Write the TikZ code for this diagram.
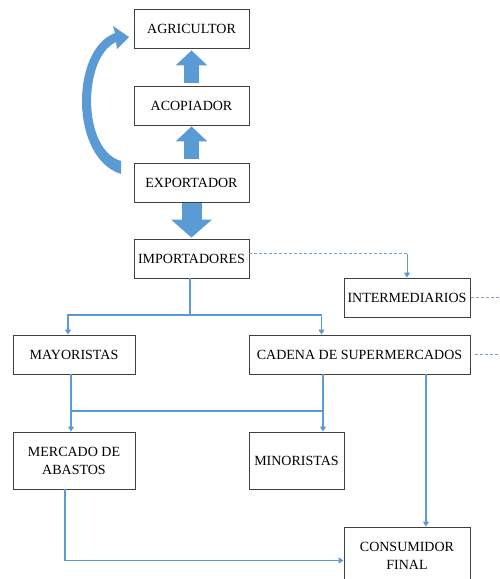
\documentclass[tikz,border=0pt]{standalone}
\usepackage{fontspec}
\setmainfont{Liberation Serif}
\usetikzlibrary{arrows.meta}

\definecolor{mBlue}{HTML}{5B9BD5}
\definecolor{mGray}{HTML}{404040}
\definecolor{mDash}{HTML}{7F9FD0}

\tikzset{
  box/.style={draw=mGray, line width=0.9pt, inner sep=0pt, align=center, font=\fontsize{14}{18}\selectfont},
  link/.style={mBlue, line width=1.4pt},
  linkarrow/.style={link, -{Triangle[length=5pt,width=6pt]}},
  dashlink/.style={mDash, line width=0.8pt, dash pattern=on 3pt off 2pt},
  bigarrow/.style={mBlue, line width=15pt, -{Triangle[length=15pt,width=31pt]}}
}

\begin{document}
\begin{tikzpicture}[x=1pt,y=-1pt]
\useasboundingbox (0,0) rectangle (499,579);

\node[box, minimum width=115pt, minimum height=39pt] (agr) at (191.5,28.5) {AGRICULTOR};
\node[box, minimum width=115pt, minimum height=39pt] (aco) at (191.5,105.5) {ACOPIADOR};
\node[box, minimum width=115pt, minimum height=39pt] (exp) at (191.5,182.5) {EXPORTADOR};
\node[box, minimum width=115pt, minimum height=39pt] (imp) at (191.5,258.5) {IMPORTADORES};
\node[box, minimum width=126pt, minimum height=39pt] (int) at (407,297.5) {INTERMEDIARIOS};
\node[box, minimum width=122pt, minimum height=39pt] (may) at (74,354.5) {MAYORISTAS};
\node[box, minimum width=221pt, minimum height=39pt] (cad) at (359.5,354.5) {CADENA DE SUPERMERCADOS};
\node[box, minimum width=122pt, minimum height=57pt] (mer) at (74,460.5) {MERCADO DE\\ABASTOS};
\node[box, minimum width=95pt, minimum height=57pt] (min) at (296.5,460.5) {MINORISTAS};
\node[box, minimum width=126pt, minimum height=57pt] (con) at (407,555.5) {CONSUMIDOR\\FINAL};

\draw[bigarrow] ([yshift=3pt]aco.north) -- ([yshift=-2pt]agr.south);
\draw[bigarrow] ([yshift=4pt]exp.north) -- ([yshift=-1pt]aco.south);
\draw[bigarrow, line width=20pt, -{Triangle[length=18pt,width=40pt]}] ([yshift=-1pt]exp.south) -- ([yshift=1pt]imp.north);

\fill[mBlue] (121,174) .. controls (70,158) and (70,50) .. (115,33) -- (113,26) -- (129,37)
  -- (117,49) -- (116,42) .. controls (82,58) and (82,150) .. (121,161) -- cycle;

\path ([yshift=5pt]imp.east) coordinate (d0);
\draw[dashlink] (d0) -- (d0 -| int.north);
\draw[linkarrow, line width=0.9pt] (d0 -| int.north) -- (int.north);
\coordinate (e1) at (499,297.5);
\coordinate (e2) at (499,354.5);
\draw[dashlink] ([xshift=1pt]int.east) -- (e1);
\draw[dashlink] ([xshift=5pt]cad.east) -- (e2);

\coordinate (j1) at (190,315);
\draw[link] ([xshift=-1.5pt]imp.south) -- (j1);
\draw[linkarrow] (j1) -| ([xshift=-6pt]may.north);
\draw[linkarrow] (j1) -| ([xshift=-38pt]cad.north);

\coordinate (j2) at (71,411);
\coordinate (j3) at (323,411);
\draw[linkarrow] ([xshift=-3pt]may.south) -- ([xshift=-3pt]mer.north);
\draw[link] (j2) -- (j3);
\draw[linkarrow] ([xshift=-36.5pt]cad.south) -- ([xshift=26.5pt]min.north);
\draw[linkarrow] ([xshift=66.5pt]cad.south) -- ([xshift=19pt]con.north);
\draw[linkarrow] ([xshift=-9pt]mer.south) |- ([yshift=-5pt]con.west);

\end{tikzpicture}
\end{document}
